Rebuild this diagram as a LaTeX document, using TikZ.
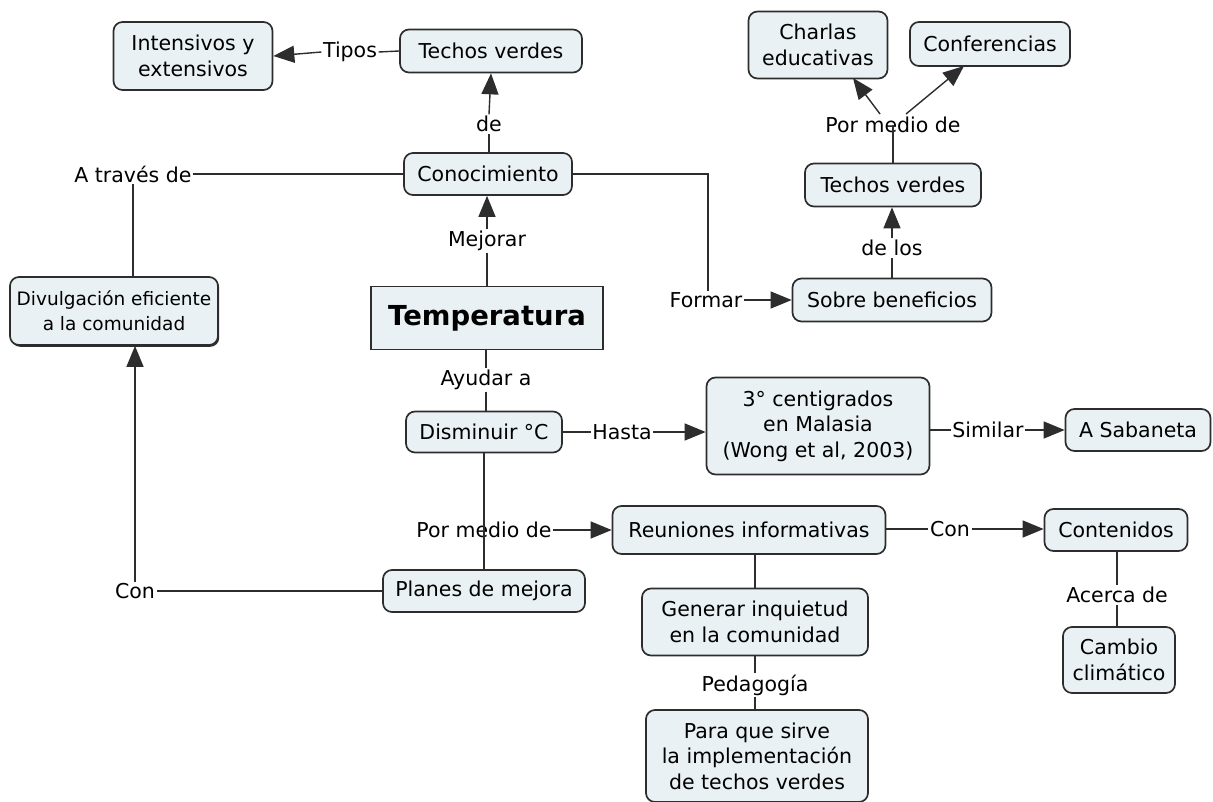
\documentclass[tikz,border=0pt]{standalone}
\usepackage{fontspec}
\setmainfont{DejaVu Sans}
\usetikzlibrary{arrows.meta,shadows}
\definecolor{boxfill}{RGB}{233,241,244}
\definecolor{edgec}{RGB}{45,45,45}
\begin{document}
\begin{tikzpicture}[x=1pt,y=-1pt,
  concept/.style={draw=edgec, line width=1.7pt, rounded corners=9pt, fill=boxfill, align=center, inner sep=0pt, font=\fontsize{20.5}{25.5}\selectfont},
  lbl/.style={fill=white, inner sep=1.5pt, font=\fontsize{20.5}{24}\selectfont},
  lblclear/.style={inner sep=1.5pt, font=\fontsize{20.5}{24}\selectfont},
  conn/.style={draw=edgec, line width=1.4pt},
  arr/.style={conn, -{Triangle[length=21pt,width=17pt]}}]
\useasboundingbox (0,0) rectangle (1213,801);

% concepts
\node[concept, minimum width=159, minimum height=68] (intens) at (193,56) {Intensivos y\\extensivos};
\node[concept, minimum width=182, minimum height=43] (techos1) at (491,51) {Techos verdes};
\node[concept, minimum width=168, minimum height=42] (conoc) at (488,174) {Conocimiento};
\node[concept, minimum width=208, minimum height=68, font=\fontsize{18.5}{25}\selectfont, drop shadow={shadow xshift=1.2pt, shadow yshift=-1.8pt, fill=edgec, opacity=1}] (divul) at (114,311) {Divulgación eficiente\\a la comunidad};
\node[draw=edgec, line width=1.7pt, fill=boxfill, minimum width=232, minimum height=63, inner sep=0pt, font=\fontsize{27.5}{32}\selectfont\bfseries] (temp) at (487,318) {Temperatura};
\node[concept, minimum width=139, minimum height=67] (charlas) at (818,45) {Charlas\\educativas};
\node[concept, minimum width=160, minimum height=44] (confer) at (990,44) {Conferencias};
\node[concept, minimum width=176, minimum height=43] (techos2) at (893,185) {Techos verdes};
\node[concept, minimum width=199, minimum height=43] (sobre) at (892,300) {Sobre beneficios};
\node[concept, minimum width=156, minimum height=41] (dismin) at (484,432) {Disminuir °C};
\node[concept, minimum width=223, minimum height=97] (wong) at (818,426) {3° centigrados\\en Malasia\\(Wong et al, 2003)};
\node[concept, minimum width=145, minimum height=42] (sabaneta) at (1138,430) {A Sabaneta};
\node[concept, minimum width=273, minimum height=48] (reun) at (749,530) {Reuniones informativas};
\node[concept, minimum width=143, minimum height=42] (conten) at (1116,530) {Contenidos};
\node[concept, minimum width=202, minimum height=42] (planes) at (484,591) {Planes de mejora};
\node[concept, minimum width=226, minimum height=67] (generar) at (755,622) {Generar inquietud\\en la comunidad};
\node[concept, minimum width=112, minimum height=66] (cambio) at (1119,660) {Cambio\\climático};
\node[concept, minimum width=222, minimum height=92] (para) at (757,756) {Para que sirve\\la implementación\\de techos verdes};

% linking phrases
\node[lbl] (tipos) at (350,52) {Tipos};
\node[lbl] (de) at (489,124) {de};
\node[lbl] (mejorar) at (487,241) {Mejorar};
\node[lbl] (atraves) at (133,174) {A través de};
\node[lbl] (formar) at (706,300) {Formar};
\node[lbl] (delos) at (892,248) {de los};
\node[lblclear] (pormedio1) at (893,125) {Por medio de};
\node[lbl] (ayudar) at (486,380) {Ayudar a};
\node[lbl] (hasta) at (622,432) {Hasta};
\node[lbl] (similar) at (988,430) {Similar};
\node[lblclear] (pormedio2) at (484,530) {Por medio de};
\node[lbl] (con1) at (135,591) {Con};
\node[lbl] (con2) at (950,529) {Con};
\node[lbl] (acerca) at (1117,595) {Acerca de};
\node[lbl] (pedag) at (755,685) {Pedagogía};

\coordinate (pmL) at (880,114);
\coordinate (pmR) at (906,114);
\coordinate (charlasTip) at (853,78);
\coordinate (conferTip) at (964,66);
\coordinate (formarTop) at (708,174);

% connectors
\draw[conn] (techos1.west) -- (tipos.east);
\draw[arr] (tipos.west) -- (intens.east);
\draw[conn] (conoc.north -| de.south) -- (de.south);
\draw[arr] (de.north) -- (techos1.south);
\draw[conn] (temp.north -| mejorar.south) -- (mejorar.south);
\draw[arr] (mejorar.north) -- (mejorar.north |- conoc.south);
\draw[conn] (conoc.west) -- (atraves.east);
\draw[conn] (atraves.south) -- (atraves.south |- divul.north);
\draw[conn] (conoc.east) -- (formarTop) -- (formarTop |- formar.north);
\draw[arr] (formar.east) -- (sobre.west);
\draw[conn] (sobre.north -| delos.south) -- (delos.south);
\draw[arr] (delos.north) -- (delos.north |- techos2.south);
\draw[conn] (techos2.north -| pormedio1.center) -- (pormedio1.center);
\draw[arr] (pmL) -- (charlasTip);
\draw[arr] (pmR) -- (conferTip);
\draw[conn] (temp.south -| ayudar.north) -- (ayudar.north);
\draw[conn] (ayudar.south) -- (ayudar.south |- dismin.north);
\draw[conn] (dismin.east |- hasta.west) -- (hasta.west);
\draw[arr] (hasta.east) -- (hasta.east -| wong.west);
\draw[conn] (wong.east |- similar.west) -- (similar.west);
\draw[arr] (similar.east) -- (similar.east -| sabaneta.west);
\draw[conn] (dismin.south) -- (planes.north);
\draw[arr] (pormedio2.east) -- (pormedio2.east -| reun.west);
\draw[conn] (planes.west) -- (con1.east);
\draw[arr] (con1.north) -- (con1.north |- divul.south);
\draw[conn] (reun.east |- con2.west) -- (con2.west);
\draw[arr] (con2.east) -- (con2.east -| conten.west);
\draw[conn] (conten.south -| acerca.north) -- (acerca.north);
\draw[conn] (acerca.south) -- (acerca.south |- cambio.north);
\draw[conn] (reun.south -| generar.north) -- (generar.north);
\draw[conn] (generar.south) -- (pedag.north);
\draw[conn] (pedag.south) -- (pedag.south |- para.north);
\end{tikzpicture}
\end{document}
